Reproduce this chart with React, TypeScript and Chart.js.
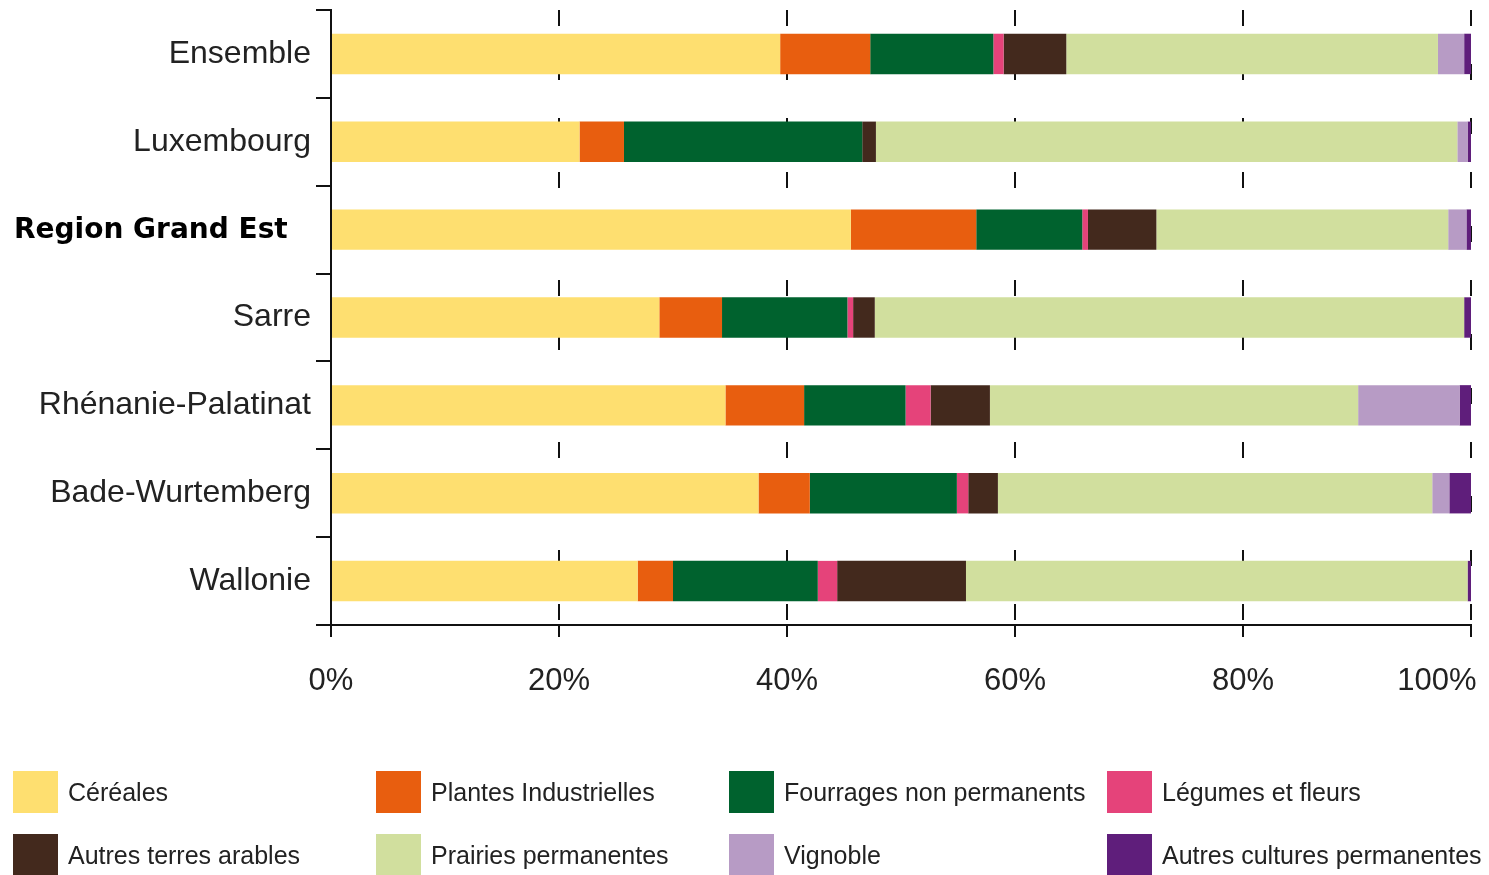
import React, { useEffect, useRef } from "react";
import { Chart, registerables } from "chart.js";

Chart.register(...registerables);

const categories = [
  "Ensemble",
  "Luxembourg",
  "Region Grand Est",
  "Sarre",
  "Rhénanie-Palatinat",
  "Bade-Wurtemberg",
  "Wallonie",
];
const BOLD_INDEX = 2;

const seriesNames = [
  "Céréales",
  "Plantes Industrielles",
  "Fourrages non permanents",
  "Légumes et fleurs",
  "Autres terres arables",
  "Prairies permanentes",
  "Vignoble",
  "Autres cultures permanentes",
];
const seriesColors = [
  "#FEDF70",
  "#E85E0F",
  "#00622E",
  "#E5437A",
  "#43291D",
  "#D1DF9E",
  "#B79BC5",
  "#5F1E7B",
];

const cereales = [39.4, 21.8, 45.6, 28.8, 34.6, 37.5, 26.9];
const plantesIndustrielles = [7.9, 3.9, 11.0, 5.5, 6.9, 4.5, 3.1];
const fourrages = [10.8, 20.9, 9.3, 11.0, 8.9, 12.9, 12.7];
const legumes = [0.9, 0.0, 0.5, 0.5, 2.2, 1.0, 1.7];
const autresTerres = [5.5, 1.2, 6.0, 1.9, 5.2, 2.6, 11.3];
const prairies = [32.6, 51.0, 25.6, 51.7, 32.3, 38.1, 44.0];
const vignoble = [2.3, 0.9, 1.6, 0.0, 8.9, 1.5, 0.0];
const autresCultures = [0.6, 0.3, 0.4, 0.6, 1.0, 1.9, 0.3];

const seriesValues = [
  cereales,
  plantesIndustrielles,
  fourrages,
  legumes,
  autresTerres,
  prairies,
  vignoble,
  autresCultures,
];

const xTickStep = 20;

const W = 1489;
const H = 875;
const PLOT_LEFT = 331;
const PLOT_RIGHT = 1471;
const PLOT_TOP = 10;
const PLOT_BOTTOM = 625;
const X_FONT = '31px "Liberation Sans", Arial';
const LAST_LABEL_CENTER = 1437;

const customLabelsPlugin = {
  id: "customLabels",
  afterDraw(chart: any) {
    const ctx = chart.ctx;
    const ys = chart.scales.y;
    const xs = chart.scales.x;
    ctx.save();
    // bold left-aligned category label
    ctx.font = 'bold 28px "DejaVu Sans"';
    ctx.fillStyle = "#000";
    ctx.textAlign = "left";
    ctx.textBaseline = "middle";
    ctx.fillText(categories[BOLD_INDEX], 14, ys.getPixelForTick(BOLD_INDEX) + 1);
    // last x label, kept inside the picture
    const items = xs.getLabelItems();
    const last = items[items.length - 1];
    if (last) {
      ctx.font = X_FONT;
      ctx.fillStyle = "#222";
      ctx.textAlign = "center";
      ctx.textBaseline = last.options.textBaseline || "middle";
      const lastTick = xs.ticks[xs.ticks.length - 1];
      ctx.fillText(
        lastTick.value + "%",
        LAST_LABEL_CENTER,
        last.options.translation[1] + (last.textOffset || 0)
      );
    }
    ctx.restore();
  },
};

export default function App() {
  const ref = useRef<HTMLCanvasElement | null>(null);

  useEffect(() => {
    document.body.style.margin = "0";
    const canvas = ref.current!;
    const chart = new Chart(canvas, {
      type: "bar",
      data: {
        labels: categories,
        datasets: seriesNames.map((name, i) => ({
          label: name,
          data: seriesValues[i],
          backgroundColor: seriesColors[i],
          borderWidth: 0,
          barPercentage: 0.46,
          categoryPercentage: 1,
        })),
      },
      options: {
        indexAxis: "y",
        responsive: false,
        animation: false,
        devicePixelRatio: 1,
        layout: {
          padding: { top: PLOT_TOP, right: W - PLOT_RIGHT, left: 0, bottom: 0 },
        },
        plugins: {
          legend: { display: false },
          tooltip: { enabled: false },
        },
        scales: {
          x: {
            type: "linear",
            stacked: true,
            min: 0,
            max: 100,
            afterFit(scale: any) {
              scale.height = H - PLOT_BOTTOM;
              scale.paddingLeft = 0;
              scale.paddingRight = 0;
            },
            ticks: {
              stepSize: xTickStep,
              callback: (v: any) => v + "%",
              font: { family: '"Liberation Sans", Arial', size: 31 },
              color: (ctx: any) => (ctx.tick && ctx.tick.value === 100 ? "rgba(0,0,0,0)" : "#222"),
              padding: 26,
              maxRotation: 0,
            },
            grid: {
              color: "#111",
              lineWidth: 2,
              drawTicks: true,
              tickLength: 12,
              tickColor: "#111",
              tickWidth: 2,
            },
            border: {
              display: true,
              color: "#111",
              width: 2,
              dash: [16, 38],
            },
          },
          y: {
            type: "category",
            stacked: true,
            offset: true,
            afterFit(scale: any) {
              scale.width = PLOT_LEFT;
              scale.paddingTop = 0;
              scale.paddingBottom = 0;
            },
            ticks: {
              font: { family: '"Liberation Sans", Arial', size: 32 },
              color: (ctx: any) => (ctx.index === BOLD_INDEX ? "rgba(0,0,0,0)" : "#222"),
              padding: 5,
            },
            grid: {
              offset: true,
              drawOnChartArea: false,
              drawTicks: true,
              tickLength: 15,
              color: "#111",
              lineWidth: 2,
            },
            border: {
              display: true,
              color: "#111",
              width: 2,
            },
          },
        },
      },
      plugins: [customLabelsPlugin],
    } as any);
    return () => chart.destroy();
  }, []);

  const legendCols = [13, 376, 729, 1107];
  const legendRows = [771, 834];

  return (
    <div style={{ position: "relative", width: W, height: H, overflow: "hidden", background: "#fff" }}>
      <canvas ref={ref} width={W} height={H} style={{ display: "block", width: W, height: H }} />
      {seriesNames.map((name, i) => {
        const col = i % 4;
        const row = Math.floor(i / 4);
        return (
          <div
            key={name}
            style={{
              position: "absolute",
              left: legendCols[col],
              top: legendRows[row],
              display: "flex",
              alignItems: "center",
              height: 42,
              whiteSpace: "nowrap",
            }}
          >
            <div style={{ width: 45, height: 42, background: seriesColors[i], flex: "none" }} />
            <span
              style={{
                marginLeft: 10,
                fontFamily: '"Liberation Sans", Arial, sans-serif',
                fontSize: 25,
                color: "#222",
              }}
            >
              {name}
            </span>
          </div>
        );
      })}
    </div>
  );
}
